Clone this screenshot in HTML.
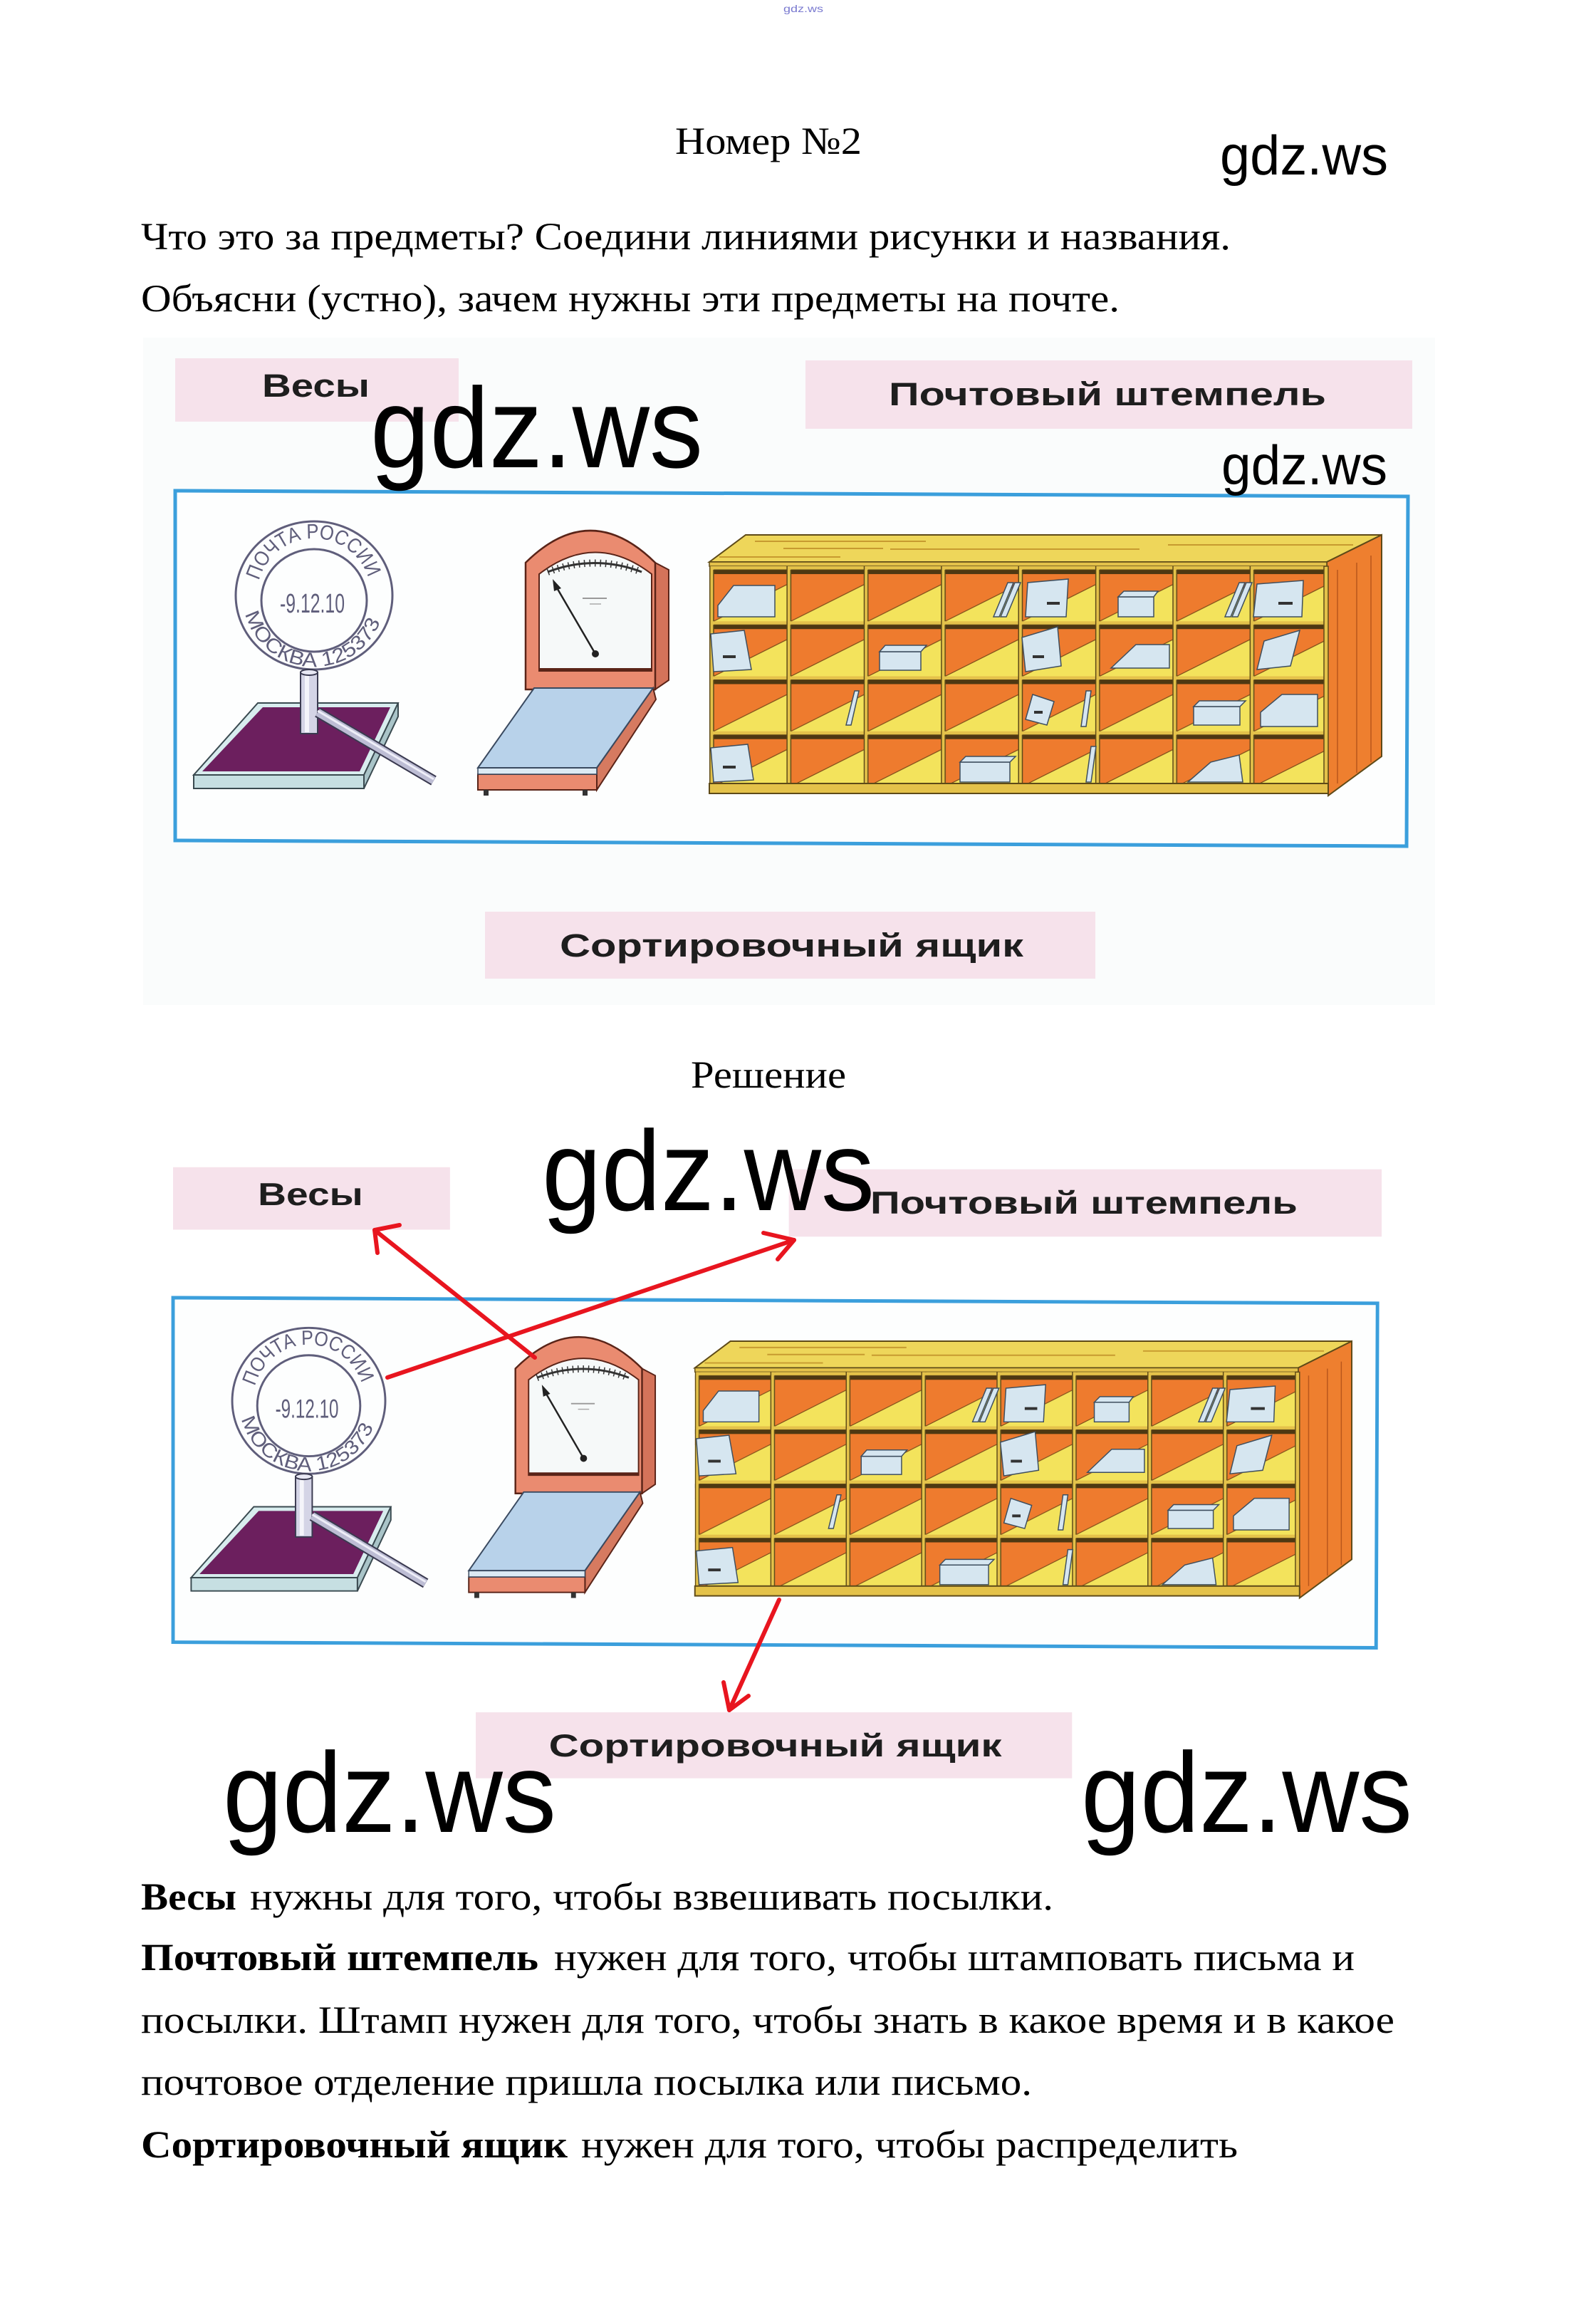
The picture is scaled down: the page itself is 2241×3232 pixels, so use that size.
<!DOCTYPE html>
<html><head><meta charset="utf-8"><style>
html,body{margin:0;padding:0;background:#fff;}
svg{display:block;}
</style></head><body>
<svg xmlns="http://www.w3.org/2000/svg" xmlns:xlink="http://www.w3.org/1999/xlink" width="2241" height="3232" viewBox="0 0 2241 3232">
<defs>
 <pattern id="cells" x="996" y="795" width="108.375" height="77.25" patternUnits="userSpaceOnUse">
  <rect width="108.375" height="77.25" fill="#ee7b2e"/>
  <polygon points="6,77.25 108.375,77.25 108.375,26" fill="#f3e35c"/>
  <line x1="6" y1="77.25" x2="108.375" y2="26" stroke="#7a4a18" stroke-width="1.2"/>
  <rect x="0" y="0" width="108.375" height="5" fill="#e4c24a"/>
  <rect x="6" y="5" width="102.375" height="6" fill="#4e3812"/>
  <rect x="0" y="0" width="6" height="77.25" fill="#e4c24a"/>
  <line x1="0.75" y1="0" x2="0.75" y2="77.25" stroke="#5e4a18" stroke-width="1.5"/>
  <line x1="6" y1="5" x2="6" y2="77.25" stroke="#5e4a18" stroke-width="1.5"/>
  <line x1="6" y1="5" x2="108.375" y2="5" stroke="#5e4a18" stroke-width="1"/>
 </pattern>
 <path id="arcT" d="M363.7,815.3 A80 80 0 0 1 518.3,815.3" fill="none"/>
 <path id="arcB" d="M344.4,861.9 A100 100 0 0 0 537.6,861.9" fill="none"/>
 <g id="art">
  <rect x="246" y="503" width="398" height="89" fill="#f6e2eb"/>
  <rect x="1131" y="506" width="852" height="96" fill="#f6e2eb"/>
  <rect x="681" y="1280" width="857" height="94" fill="#f6e2eb"/>
  <polygon points="246,689 1977,697 1975,1188 246,1180" fill="#fdfefe" stroke="#3b9fdc" stroke-width="5"/>
  <!-- stamp -->
  <g fill="none" stroke="#4f4d6d" stroke-width="3" opacity="0.9">
   <ellipse cx="441" cy="836" rx="110" ry="104"/>
   <ellipse cx="441" cy="843" rx="74" ry="72"/>
  </g>
  <polygon points="362,987 559,987 511,1088 272,1088" fill="#d8ecee" stroke="#3a4a50" stroke-width="2"/>
  <polygon points="272,1088 511,1088 511,1107 272,1107" fill="#c6dfe2" stroke="#3a4a50" stroke-width="2"/>
  <polygon points="511,1088 559,987 559,1006 511,1107" fill="#a9c4c8" stroke="#3a4a50" stroke-width="2"/>
  <polygon points="369,993 548,993 505,1083 284,1083" fill="#6c1f5e"/>
  <rect x="422" y="944" width="24" height="86" fill="#d4d4e6" stroke="#3a3a50" stroke-width="2"/>
  <rect x="428" y="946" width="6" height="82" fill="#f4f4fa"/>
  <ellipse cx="434" cy="944" rx="12" ry="4" fill="#e8e8f4" stroke="#3a3a50" stroke-width="2"/>
  <line x1="446" y1="1000" x2="609" y2="1096" stroke="#3a3a50" stroke-width="15"/>
  <line x1="446" y1="1000" x2="609" y2="1096" stroke="#bdbdd4" stroke-width="11"/>
  <line x1="446" y1="998" x2="609" y2="1094" stroke="#eeeef8" stroke-width="3"/>
  <!-- scale -->
  <path d="M920,790 L939,800 L939,955 L920,968 Z" fill="#d4735a" stroke="#5a2418" stroke-width="2"/>
  <path d="M738,968 V790 Q829,700 920,790 V968 Z" fill="#ea8b70" stroke="#5a2418" stroke-width="2.5"/>
  <path d="M757,942 V806 Q836,745 915,806 V942 Z" fill="#f6f9f9" stroke="#5a2418" stroke-width="2"/>
  <path d="M769,803 Q835,778 901,803" fill="none" stroke="#333" stroke-width="3"/>
  <path d="M769,803 Q835,778 901,803" fill="none" stroke="#333" stroke-width="10" stroke-dasharray="1.5 6"/>
  <line x1="780" y1="822" x2="836" y2="918" stroke="#222" stroke-width="2.5"/>
  <circle cx="836" cy="918" r="5" fill="#222"/>
  <polygon points="776,813 788,826 778,830" fill="#222"/>
  <line x1="818" y1="840" x2="852" y2="840" stroke="#999" stroke-width="2"/>
  <line x1="828" y1="848" x2="844" y2="848" stroke="#aaa" stroke-width="1.5"/>
  <line x1="757" y1="940" x2="915" y2="940" stroke="#5a2418" stroke-width="4"/>
  <polygon points="838,1078 917,966 921,982 838,1109" fill="#d67a60" stroke="#5a2418" stroke-width="2"/>
  <rect x="671" y="1087" width="167" height="22" fill="#ea8b70" stroke="#5a2418" stroke-width="2"/>
  <rect x="671" y="1078" width="167" height="9" fill="#dceaf4" stroke="#3a4a60" stroke-width="1.5"/>
  <polygon points="750,966 917,966 838,1078 671,1078" fill="#b8d2ea" stroke="#3a4a60" stroke-width="2"/>
  <rect x="679" y="1109" width="7" height="8" fill="#333"/>
  <rect x="818" y="1109" width="7" height="8" fill="#333"/>
  <!-- sorting box -->
  <polygon points="996,789 1047,751 1940,751 1863,789" fill="#eed65a" stroke="#5e4a18" stroke-width="2"/>
  <path d="M1060,760 H1300 M1010,782 H1180 M1250,771 H1600 M1640,765 H1900 M1100,770 H1240" stroke="#c79a30" stroke-width="2" fill="none"/>
  <polygon points="1863,789 1940,751 1940,1062 1865,1117" fill="#ee7f2f" stroke="#5e4a18" stroke-width="2"/>
  <path d="M1878,800 V1100 M1905,790 V1085 M1925,780 V1070" stroke="#b8561c" stroke-width="1.5" fill="none"/>
  <rect x="996" y="789" width="867" height="6" fill="#e4c24a" stroke="#5e4a18" stroke-width="1.5"/>
  <rect x="996" y="795" width="867" height="309" fill="url(#cells)"/>
  <rect x="1859" y="795" width="6" height="309" fill="#e4c24a" stroke="#5e4a18" stroke-width="1.5"/>
  <rect x="996" y="1100" width="869" height="14" fill="#e4c24a" stroke="#5e4a18" stroke-width="2"/>
  <g fill="#d6e6f0" stroke="#3e4e5e" stroke-width="1.5">
   <polygon points="1008,866 1008,850 1030,822 1088,822 1088,866"/>
   <polygon points="1395,866 1415,818 1423,818 1403,866"/>
   <polygon points="1405,866 1425,818 1433,818 1413,866"/>
   <polygon points="1440,866 1443,818 1500,813 1497,866"/>
   <rect x="1570" y="838" width="50" height="28"/>
   <polygon points="1570,838 1578,830 1626,830 1620,838"/>
   <polygon points="1720,866 1740,818 1748,818 1728,866"/>
   <polygon points="1730,866 1750,818 1758,818 1738,866"/>
   <polygon points="1760,866 1765,820 1830,815 1828,866"/>
   <polygon points="1002,943 998,890 1045,885 1055,940"/>
   <rect x="1235" y="915" width="58" height="26"/>
   <polygon points="1235,915 1243,906 1301,906 1293,915"/>
   <polygon points="1440,943 1435,895 1485,880 1490,935"/>
   <polygon points="1560,938 1595,905 1642,905 1642,938"/>
   <polygon points="1765,940 1775,900 1825,885 1812,935"/>
   <polygon points="1188,1018 1200,970 1206,970 1195,1018"/>
   <polygon points="1440,1010 1450,975 1480,985 1470,1018"/>
   <polygon points="1518,1020 1525,970 1532,970 1525,1020"/>
   <rect x="1676" y="992" width="65" height="26"/>
   <polygon points="1676,992 1684,984 1749,984 1741,992"/>
   <polygon points="1770,1020 1770,1000 1800,975 1850,975 1850,1020"/>
   <polygon points="1002,1098 998,1050 1050,1045 1058,1095"/>
   <rect x="1348" y="1070" width="70" height="28"/>
   <polygon points="1348,1070 1356,1062 1426,1062 1418,1070"/>
   <polygon points="1525,1098 1532,1048 1539,1048 1532,1098"/>
   <polygon points="1668,1098 1700,1070 1740,1060 1745,1098"/>
  </g>
  <g fill="#333">
   <rect x="1470" y="845" width="18" height="4"/>
   <rect x="1795" y="845" width="20" height="4"/>
   <rect x="1015" y="920" width="18" height="4"/>
   <rect x="1450" y="920" width="16" height="4"/>
   <rect x="1452" y="998" width="12" height="4"/>
   <rect x="1015" y="1075" width="18" height="4"/>
  </g>
 </g>
</defs>

<rect width="2241" height="3232" fill="#ffffff"/>

<text x="1100" y="17" font-family="Liberation Sans, sans-serif" font-size="14" fill="#7a7ad0" textLength="56" lengthAdjust="spacingAndGlyphs">gdz.ws</text>

<g font-family="Liberation Serif, 'DejaVu Serif', serif" font-size="54" fill="#000">
 <text x="948" y="216" textLength="262" lengthAdjust="spacingAndGlyphs">Номер №2</text>
 <text x="198" y="350" textLength="1530" lengthAdjust="spacingAndGlyphs">Что это за предметы? Соедини линиями рисунки и названия.</text>
 <text x="198" y="437" textLength="1374" lengthAdjust="spacingAndGlyphs">Объясни (устно), зачем нужны эти предметы на почте.</text>
 <text x="970" y="1527" textLength="218" lengthAdjust="spacingAndGlyphs">Решение</text>

 <text x="198" y="2681" font-weight="bold" textLength="134" lengthAdjust="spacingAndGlyphs">Весы</text>
 <text x="351" y="2681" textLength="1128" lengthAdjust="spacingAndGlyphs">нужны для того, чтобы взвешивать посылки.</text>
 <text x="198" y="2766" font-weight="bold" textLength="558" lengthAdjust="spacingAndGlyphs">Почтовый штемпель</text>
 <text x="778" y="2766" textLength="1124" lengthAdjust="spacingAndGlyphs">нужен для того, чтобы штамповать письма и</text>
 <text x="198" y="2854" textLength="1760" lengthAdjust="spacingAndGlyphs">посылки. Штамп нужен для того, чтобы знать в какое время и в какое</text>
 <text x="198" y="2941" textLength="1251" lengthAdjust="spacingAndGlyphs">почтовое отделение пришла посылка или письмо.</text>
 <text x="198" y="3029" font-weight="bold" textLength="599" lengthAdjust="spacingAndGlyphs">Сортировочный ящик</text>
 <text x="816" y="3029" textLength="922" lengthAdjust="spacingAndGlyphs">нужен для того, чтобы распределить</text>
</g>

<!-- Picture 1 -->
<g>
 <rect x="201" y="474" width="1814" height="937" fill="#fafcfc"/>
 <use xlink:href="#art" href="#art"/>
 <g font-family="Liberation Sans, Arial, sans-serif" font-weight="bold" font-size="45" fill="#1e1e1e">
  <text x="368" y="557" textLength="151" lengthAdjust="spacingAndGlyphs">Весы</text>
  <text x="1248" y="569" textLength="614" lengthAdjust="spacingAndGlyphs">Почтовый штемпель</text>
  <text x="786" y="1343" textLength="651" lengthAdjust="spacingAndGlyphs">Сортировочный ящик</text>
 </g>
 <g font-family="Liberation Sans, sans-serif" fill="#4f4d6d" opacity="0.9">
  <text font-size="29"><textPath xlink:href="#arcT" href="#arcT" textLength="205" lengthAdjust="spacingAndGlyphs">ПОЧТА РОССИИ</textPath></text>
  <text font-size="28"><textPath xlink:href="#arcB" href="#arcB" textLength="250" lengthAdjust="spacingAndGlyphs">МОСКВА   125373</textPath></text>
  <text x="393" y="860" font-size="38" textLength="91" lengthAdjust="spacingAndGlyphs">-9.12.10</text>
 </g>
</g>

<!-- Picture 2 -->
<g transform="matrix(0.977,0,0,0.985,2.66,1143.3)">
 <use xlink:href="#art" href="#art"/>
 <g font-family="Liberation Sans, Arial, sans-serif" font-weight="bold" font-size="45" fill="#1e1e1e">
  <text x="368" y="557" textLength="151" lengthAdjust="spacingAndGlyphs">Весы</text>
  <text x="1248" y="569" textLength="614" lengthAdjust="spacingAndGlyphs">Почтовый штемпель</text>
  <text x="786" y="1343" textLength="651" lengthAdjust="spacingAndGlyphs">Сортировочный ящик</text>
 </g>
 <g font-family="Liberation Sans, sans-serif" fill="#4f4d6d" opacity="0.9">
  <text font-size="29"><textPath xlink:href="#arcT" href="#arcT" textLength="205" lengthAdjust="spacingAndGlyphs">ПОЧТА РОССИИ</textPath></text>
  <text font-size="28"><textPath xlink:href="#arcB" href="#arcB" textLength="250" lengthAdjust="spacingAndGlyphs">МОСКВА   125373</textPath></text>
  <text x="393" y="860" font-size="38" textLength="91" lengthAdjust="spacingAndGlyphs">-9.12.10</text>
 </g>
</g>

<!-- red arrows -->
<g stroke="#e8151f" stroke-width="6" fill="none" stroke-linecap="round" stroke-linejoin="round">
 <line x1="751" y1="1906" x2="526" y2="1727"/>
 <polyline points="561,1720 526,1727 530,1759"/>
 <line x1="544" y1="1934" x2="1115" y2="1741"/>
 <polyline points="1072,1731 1115,1741 1092,1768"/>
 <line x1="1094" y1="2246" x2="1024" y2="2401"/>
 <polyline points="1016,2362 1024,2401 1051,2381"/>
</g>

<!-- watermarks -->
<g font-family="Liberation Sans, 'DejaVu Sans', sans-serif" fill="#000">
 <text x="1713" y="245" font-size="78" textLength="236" lengthAdjust="spacingAndGlyphs">gdz.ws</text>
 <text x="1715" y="680" font-size="78" textLength="233" lengthAdjust="spacingAndGlyphs">gdz.ws</text>
 <text x="520" y="656" font-size="160" textLength="467" lengthAdjust="spacingAndGlyphs">gdz.ws</text>
 <text x="761" y="1699" font-size="160" textLength="467" lengthAdjust="spacingAndGlyphs">gdz.ws</text>
 <text x="313" y="2572" font-size="160" textLength="468" lengthAdjust="spacingAndGlyphs">gdz.ws</text>
 <text x="1518" y="2572" font-size="160" textLength="465" lengthAdjust="spacingAndGlyphs">gdz.ws</text>
</g>
</svg>
</body></html>
